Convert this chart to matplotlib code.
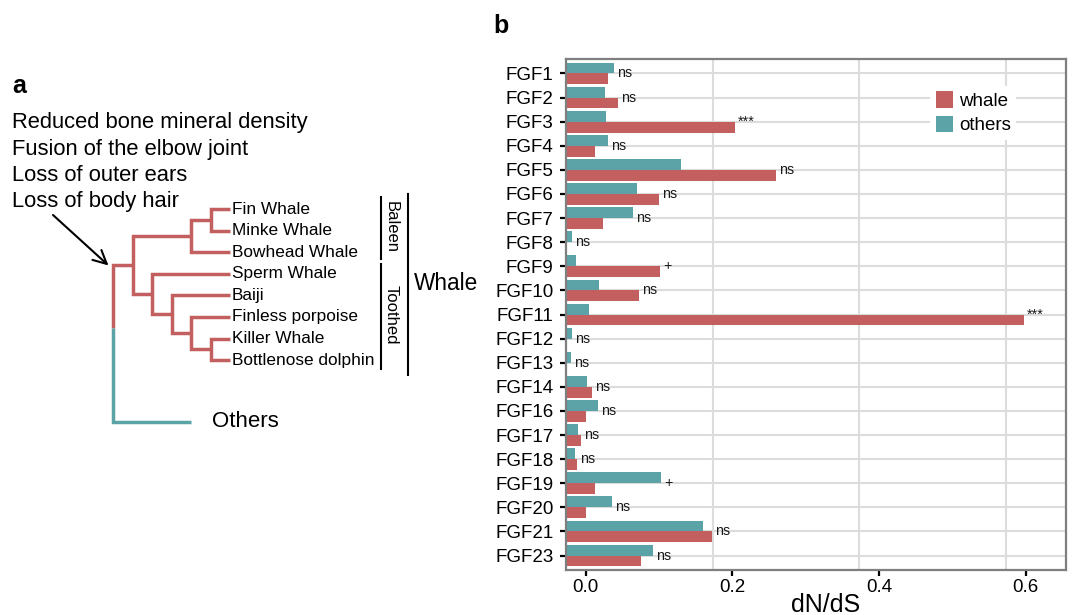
import numpy as np
import matplotlib.pyplot as plt
from matplotlib.patches import Patch

plt.rcParams['font.family'] = ['Liberation Sans', 'DejaVu Sans']

# ---------------------------------------------------------------------------
# Data (panel b): dN/dS per FGF gene
# ---------------------------------------------------------------------------
genes = ["FGF1", "FGF2", "FGF3", "FGF4", "FGF5", "FGF6", "FGF7", "FGF8",
         "FGF9", "FGF10", "FGF11", "FGF12", "FGF13", "FGF14", "FGF16",
         "FGF17", "FGF18", "FGF19", "FGF20", "FGF21", "FGF23"]
others = [0.066, 0.053, 0.055, 0.057, 0.157, 0.097, 0.092, 0.008, 0.014,
          0.045, 0.031, 0.008, 0.007, 0.029, 0.044, 0.016, 0.012, 0.130,
          0.063, 0.187, 0.119]
whale = [0.057, 0.071, 0.230, 0.039, 0.287, 0.127, 0.050, 0.001, 0.128,
         0.100, 0.625, 0.001, 0.001, 0.036, 0.027, 0.021, 0.015, 0.040,
         0.027, 0.199, 0.102]
signif = ["ns", "ns", "***", "ns", "ns", "ns", "ns", "ns", "+", "ns", "***",
          "ns", "ns", "ns", "ns", "ns", "ns", "+", "ns", "ns", "ns"]
tick_vals = [0.0, 0.2, 0.4, 0.6]

# panel a: tree topology and traits
tree = ((("Fin Whale", "Minke Whale"), "Bowhead Whale"),
        ("Sperm Whale", ("Baiji", ("Finless porpoise",
                                   ("Killer Whale", "Bottlenose dolphin")))))
traits = ["Reduced bone mineral density", "Fusion of the elbow joint",
          "Loss of outer ears", "Loss of body hair"]

RED = "#C3605F"
TEAL = "#5CA3A7"
W, H = 1074, 615

fig = plt.figure(figsize=(W / 100, H / 100), dpi=100)

# ---------------------------------------------------------------------------
# Panel a -- drawn on a pixel canvas
# ---------------------------------------------------------------------------
axa = fig.add_axes([0, 0, 1, 1])
axa.set_xlim(0, W)
axa.set_ylim(H, 0)
axa.axis("off")

axa.text(12, 92.7, "a", fontsize=18, fontweight="bold", va="baseline")
axa.text(493, 33.3, "b", fontsize=18, fontweight="bold", va="baseline")
for i, t in enumerate(traits):
    axa.text(12, 128.3 + 26.4 * i, t, fontsize=15.8, va="baseline")

LEAF_X, STEP = 230, 19.5
LEAF_Y0, LEAF_DY = 209, 21.6
tree_kw = dict(color=RED, lw=2.5, solid_joinstyle="miter", solid_capstyle="butt")
n_leaf = [0]


def layout(node):
    if isinstance(node, str):
        y = LEAF_Y0 + LEAF_DY * n_leaf[0]
        n_leaf[0] += 1
        axa.text(LEAF_X + 2, y, node, fontsize=12.4, va="center")
        return LEAF_X, y, 0
    (x1, y1, h1), (x2, y2, h2) = [layout(c) for c in node]
    h = max(h1, h2) + 1
    x = LEAF_X - STEP * h
    axa.plot([x1, x, x, x2], [y1, y1, y2, y2], **tree_kw)
    return x, (y1 + y2) / 2, h


wx, wy, wh = layout(tree)
root_x = wx - STEP
axa.plot([wx, root_x, root_x], [wy, wy, 328], **tree_kw)
axa.plot([root_x, root_x, 191], [328, 422, 422], color=TEAL, lw=2.5,
         solid_joinstyle="miter", solid_capstyle="butt")
axa.text(212, 426.7, "Others", fontsize=16, va="baseline")

# clade brackets
axa.plot([381, 381], [196.7, 259.3], color="black", lw=1.5)
axa.plot([381, 381], [264, 369], color="black", lw=1.5)
axa.plot([407.7, 407.7], [194.3, 375], color="black", lw=1.5)
axa.text(391, 227, "Baleen", fontsize=12, rotation=270, ha="center", va="center")
axa.text(391, 315, "Toothed", fontsize=12, rotation=270, ha="center", va="center")
axa.text(414, 290, "Whale", fontsize=16.3, va="baseline")

axa.annotate("", xy=(108.5, 265.5), xytext=(53, 215),
             arrowprops=dict(arrowstyle="->", color="black", lw=1.5,
                             mutation_scale=24, shrinkA=0, shrinkB=0))

# ---------------------------------------------------------------------------
# Panel b -- grouped horizontal bars
# ---------------------------------------------------------------------------
ax = fig.add_axes([566 / W, 1 - 570 / H, 500 / W, 511 / H])
y = np.arange(len(genes))
bh = 0.45
ax.barh(y - bh / 2, others, height=bh, color=TEAL)
ax.barh(y + bh / 2, whale, height=bh, color=RED)

for yi, o, wv, s in zip(y, others, whale, signif):
    ax.text(max(o, wv) + 0.004, yi, s, fontsize=10.3, ha="left", va="center",
            color="#1a1a1a")

ax.set_xlim(0, 500 / 733)
ax.set_ylim(len(genes) - 0.4, -0.6)
ax.set_yticks(y)
ax.set_yticklabels(genes)

# the printed tick labels sit ~0.027 to the right of the grid lines
label_shift = 0.027
ax.set_xticks(np.array(tick_vals) + label_shift)
ax.set_xticklabels([f"{v:.1f}" for v in tick_vals])
ax.set_xticks(tick_vals[1:], minor=True)
ax.tick_params(which="major", labelsize=13.5, length=4, width=1.6,
               color="black")
ax.tick_params(which="minor", length=0)
ax.tick_params(axis="y", pad=5)
ax.tick_params(axis="x", pad=2.5)

ax.set_axisbelow(True)
ax.grid(axis="y", which="major", color="#DCDCDC", lw=1.5)
ax.grid(axis="x", which="minor", color="#DCDCDC", lw=1.5)
ax.grid(axis="x", which="major", visible=False)
for sp in ax.spines.values():
    sp.set_color("#7F7F7F")
    sp.set_linewidth(1.6)

ax.set_xlabel("dN/dS", fontsize=18, va="baseline")
ax.xaxis.set_label_coords(0.52, -(612 - 570) / 511)

handles = [Patch(facecolor=RED, label="whale"),
           Patch(facecolor=TEAL, label="others")]
ax.legend(handles=handles, loc="upper left", bbox_to_anchor=(0.709, 0.966),
          fontsize=13.5, frameon=True, facecolor="white", edgecolor="none",
          framealpha=1, fancybox=False, handlelength=0.95, handleheight=0.95,
          handletextpad=0.3, labelspacing=0.3, borderpad=0.3)

fig.savefig("out.png", dpi=100)
